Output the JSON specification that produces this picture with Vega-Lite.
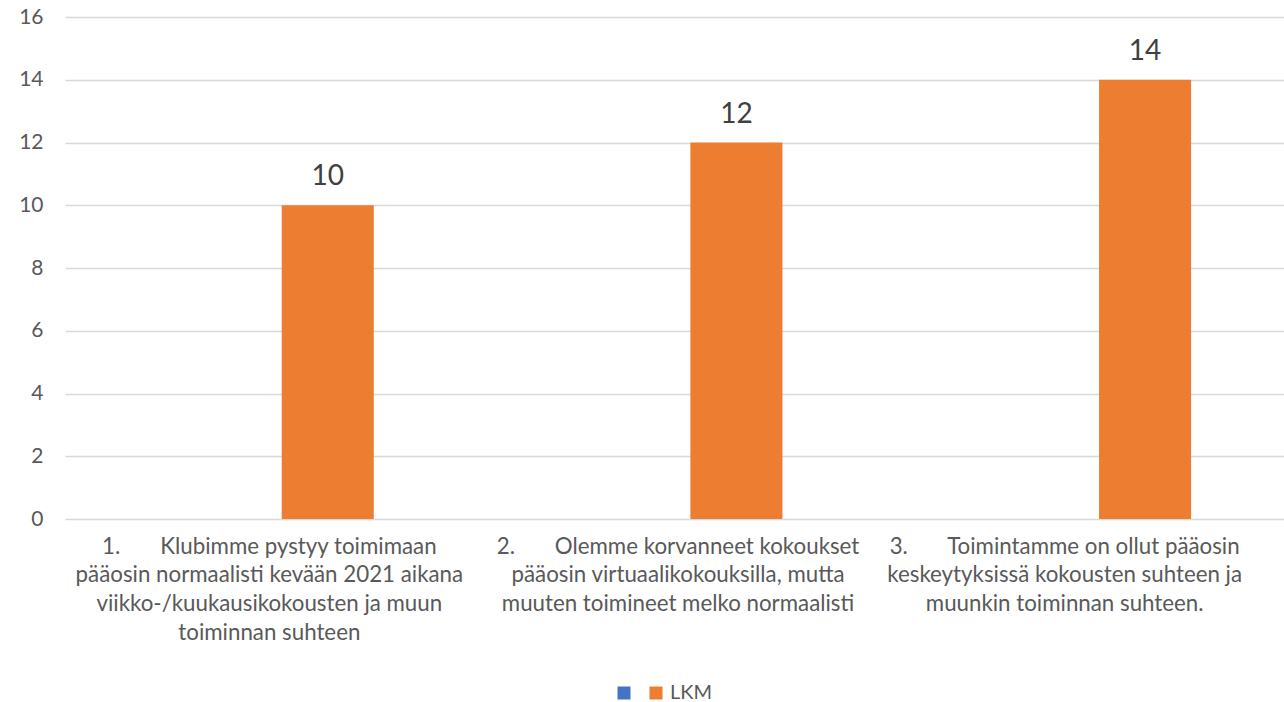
{
  "$schema": "https://vega.github.io/schema/vega-lite/v6.json",
  "autosize": "none",
  "width": 1219,
  "height": 502,
  "padding": {"left": 65, "top": 17, "right": 0, "bottom": 183},
  "background": "white",
  "config": {
    "view": {"stroke": null},
    "font": "Lato"
  },
  "data": {
    "values": [
      {"category": "1.\u00a0\u00a0\u00a0\u00a0\u00a0\u00a0\u00a0Klubimme pystyy toimimaan\npääosin normaalisti kevään 2021 aikana\nviikko-/kuukausikokousten ja muun\ntoiminnan suhteen", "series": " ", "value": 0},
      {"category": "1.\u00a0\u00a0\u00a0\u00a0\u00a0\u00a0\u00a0Klubimme pystyy toimimaan\npääosin normaalisti kevään 2021 aikana\nviikko-/kuukausikokousten ja muun\ntoiminnan suhteen", "series": "LKM", "value": 10},
      {"category": "2.\u00a0\u00a0\u00a0\u00a0\u00a0\u00a0\u00a0Olemme korvanneet kokoukset\npääosin virtuaalikokouksilla, mutta\nmuuten toimineet melko normaalisti", "series": " ", "value": 0},
      {"category": "2.\u00a0\u00a0\u00a0\u00a0\u00a0\u00a0\u00a0Olemme korvanneet kokoukset\npääosin virtuaalikokouksilla, mutta\nmuuten toimineet melko normaalisti", "series": "LKM", "value": 12},
      {"category": "3.\u00a0\u00a0\u00a0\u00a0\u00a0\u00a0\u00a0Toimintamme on ollut pääosin\nkeskeytyksissä kokousten suhteen ja\nmuunkin toiminnan suhteen.", "series": " ", "value": 0},
      {"category": "3.\u00a0\u00a0\u00a0\u00a0\u00a0\u00a0\u00a0Toimintamme on ollut pääosin\nkeskeytyksissä kokousten suhteen ja\nmuunkin toiminnan suhteen.", "series": "LKM", "value": 14}
    ]
  },
  "encoding": {
    "x": {
      "field": "category",
      "type": "nominal",
      "sort": null,
      "scale": {"paddingInner": 0, "paddingOuter": 0, "range": [0, 1226]},
      "axis": {
        "title": null,
        "labelAngle": 0,
        "labelExpr": "split(datum.value, '\\n')",
        "labelFontSize": 22.3,
        "labelColor": "#595959",
        "labelLineHeight": 28.7,
        "labelPadding": 16,
        "labelBaseline": "top",
        "labelLimit": 0,
        "labelOffset": {"condition": {"test": "indexof(datum.value, '3.') === 0", "value": -22}, "value": 0},
        "ticks": false,
        "domain": false,
        "grid": false
      }
    },
    "xOffset": {
      "field": "series",
      "type": "nominal",
      "scale": {"domain": [" ", "LKM"], "paddingInner": 0.212, "paddingOuter": 0.855}
    },
    "y": {
      "field": "value",
      "type": "quantitative",
      "scale": {"domain": [0, 16], "nice": false},
      "axis": {
        "title": null,
        "values": [0, 2, 4, 6, 8, 10, 12, 14, 16],
        "labelFontSize": 21,
        "labelColor": "#595959",
        "labelPadding": 22,
        "ticks": false,
        "domain": false,
        "gridColor": "#d9d9d9",
        "gridWidth": 1.5
      }
    }
  },
  "layer": [
    {
      "mark": {"type": "bar"},
      "encoding": {
        "color": {
          "field": "series",
          "type": "nominal",
          "scale": {"domain": [" ", "LKM"], "range": ["#4472C4", "#ED7D31"]},
          "legend": {
            "title": null,
            "orient": "none",
            "direction": "horizontal",
            "legendX": 549,
            "legendY": 666,
            "symbolType": "square",
            "symbolSize": 169,
            "symbolStrokeWidth": 0,
            "symbolOpacity": 1,
            "labelFontSize": 20,
            "labelColor": "#595959",
            "columnPadding": 8,
            "labelOffset": 4
          }
        }
      }
    },
    {
      "transform": [{"filter": "datum.series === 'LKM'"}],
      "mark": {"type": "text", "baseline": "bottom", "dy": -14, "fontSize": 28, "color": "#404040"},
      "encoding": {
        "text": {"field": "value", "type": "quantitative"}
      }
    }
  ]
}
